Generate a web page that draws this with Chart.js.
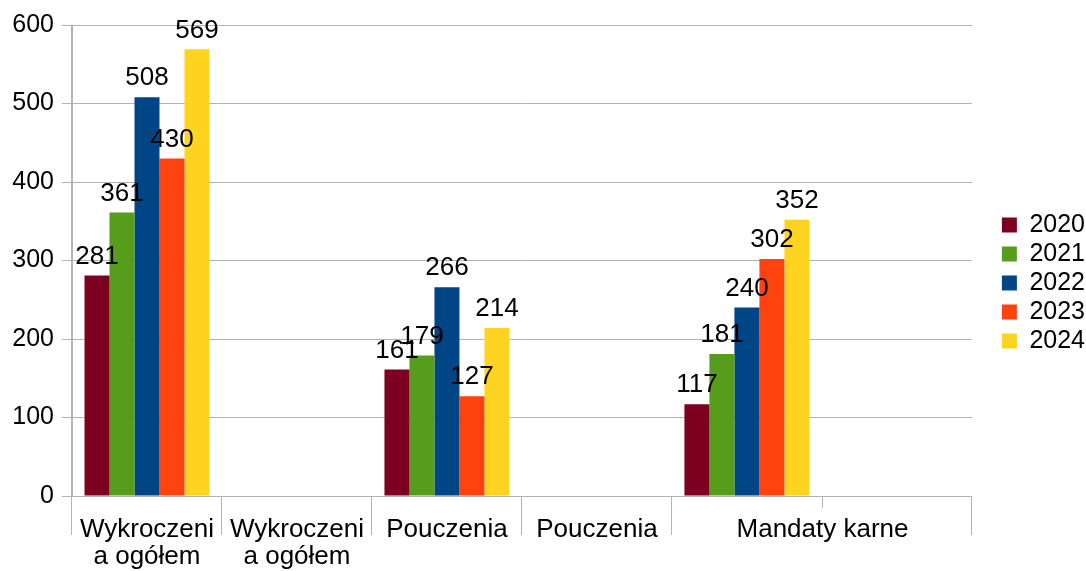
<!DOCTYPE html>
<html>
<head>
<meta charset="utf-8">
<script src="https://cdn.jsdelivr.net/npm/chart.js@4"></script>
<style>
    html, body { margin: 0; padding: 0; background: #ffffff; }
    #wrap { width: 1086px; height: 571px; }
</style>
</head>
<body>
<div id="wrap"><canvas id="chart" width="1086" height="571"></canvas></div>
<script>
const categories = ["Wykroczenia ogółem", "Wykroczenia ogółem", "Pouczenia", "Pouczenia", "Mandaty karne", "Mandaty karne"];
const seriesNames = ["2020", "2021", "2022", "2023", "2024"];
const values2020 = [281, null, 161, null, 117, null];
const values2021 = [361, null, 179, null, 181, null];
const values2022 = [508, null, 266, null, 240, null];
const values2023 = [430, null, 127, null, 302, null];
const values2024 = [569, null, 214, null, 352, null];
const yTicks = [0, 100, 200, 300, 400, 500, 600];

const seriesColors = ["#7e0021", "#579d1c", "#004586", "#ff420e", "#ffd320"];
const lineColor = "#b3b3b3";
const fontFamily = "'Liberation Sans', Arial, sans-serif";
const fontSize = 25;
const labelFontSize = 26;

// labels LibreOffice spreads over two columns are drawn by hand
const groupLabelPlugin = {
    id: "groupLabel",
    afterLayout: function (chart) {
        // move the legend block to where LibreOffice puts it
        const legend = chart.legend;
        legend.left += 26;
        legend.right += 26;
        legend.top -= 15;
        legend.bottom -= 15;
    },
    afterDraw: function (chart) {
        const ctx = chart.ctx;
        const xScale = chart.scales.x;
        const tickLength = xScale.options.grid.tickLength;
        const padding = xScale.options.ticks.padding;
        const lineHeight = labelFontSize * 1.05;

        ctx.save();
        // short inner tick between the two "Mandaty karne" columns
        const midX = Math.round((xScale.getPixelForValue(4) + xScale.getPixelForValue(5)) / 2) + 0.5;
        ctx.strokeStyle = lineColor;
        ctx.lineWidth = 1;
        ctx.beginPath();
        ctx.moveTo(midX, xScale.top);
        ctx.lineTo(midX, xScale.top + 12);
        ctx.stroke();

        ctx.fillStyle = "#000000";
        ctx.font = labelFontSize + "px " + fontFamily;
        ctx.textAlign = "center";
        ctx.textBaseline = "middle";
        ctx.fillText(categories[4], midX, xScale.top + tickLength + padding + lineHeight / 2);
        ctx.restore();
    }
};

const valueLabelPlugin = {
    id: "valueLabels",
    afterDatasetsDraw: function (chart) {
        const ctx = chart.ctx;
        ctx.save();
        ctx.fillStyle = "#000000";
        ctx.font = labelFontSize + "px " + fontFamily;
        ctx.textAlign = "center";
        ctx.textBaseline = "bottom";
        chart.data.datasets.forEach(function (dataset, i) {
            const meta = chart.getDatasetMeta(i);
            meta.data.forEach(function (bar, j) {
                const value = dataset.data[j];
                if (value === null) {
                    return;
                }
                ctx.fillText(String(value), bar.x, bar.y - 6);
            });
        });
        ctx.restore();
    }
};

const allValues = [values2020, values2021, values2022, values2023, values2024];

new Chart(document.getElementById("chart"), {
    type: "bar",
    plugins: [valueLabelPlugin, groupLabelPlugin],
    data: {
        labels: categories,
        datasets: allValues.map(function (values, i) {
            return {
                label: seriesNames[i],
                data: values,
                backgroundColor: seriesColors[i],
                borderWidth: 0,
                categoryPercentage: 125 / 150,
                barPercentage: 1
            };
        })
    },
    options: {
        responsive: false,
        animation: false,
        layout: {
            padding: { top: 25, right: 17, bottom: 0, left: 0 }
        },
        plugins: {
            legend: {
                position: "right",
                labels: {
                    color: "#000000",
                    boxWidth: 15,
                    boxHeight: 15,
                    padding: 4,
                    font: { family: fontFamily, size: fontSize }
                }
            },
            tooltip: { enabled: false }
        },
        scales: {
            x: {
                afterFit: function (scale) { scale.height = 75; },
                grid: {
                    offset: true,
                    drawOnChartArea: true,
                    tickLength: 39,
                    color: function (ctx) {
                        return (ctx.index === 0 || ctx.index === categories.length) ? lineColor : "rgba(0,0,0,0)";
                    },
                    tickColor: function (ctx) {
                        return ctx.index === 5 ? "rgba(0,0,0,0)" : lineColor;
                    }
                },
                border: { color: lineColor },
                ticks: {
                    color: "#000000",
                    padding: -19,
                    maxRotation: 0,
                    autoSkip: false,
                    font: { family: fontFamily, size: labelFontSize, lineHeight: 1.05 },
                    callback: function (value, index) {
                        const label = categories[index];
                        if (label === "Wykroczenia ogółem") {
                            return ["Wykroczeni", "a ogółem"];
                        }
                        if (label === "Mandaty karne") {
                            return "";
                        }
                        return label;
                    }
                }
            },
            y: {
                min: 0,
                max: 600,
                afterFit: function (scale) { scale.width = 72; },
                afterBuildTicks: function (scale) {
                    scale.ticks = yTicks.map(function (v) { return { value: v }; });
                },
                grid: {
                    color: lineColor,
                    tickLength: 10
                },
                border: { color: lineColor },
                ticks: {
                    color: "#000000",
                    padding: 8,
                    font: { family: fontFamily, size: fontSize }
                }
            }
        }
    }
});
</script>
</body>
</html>
